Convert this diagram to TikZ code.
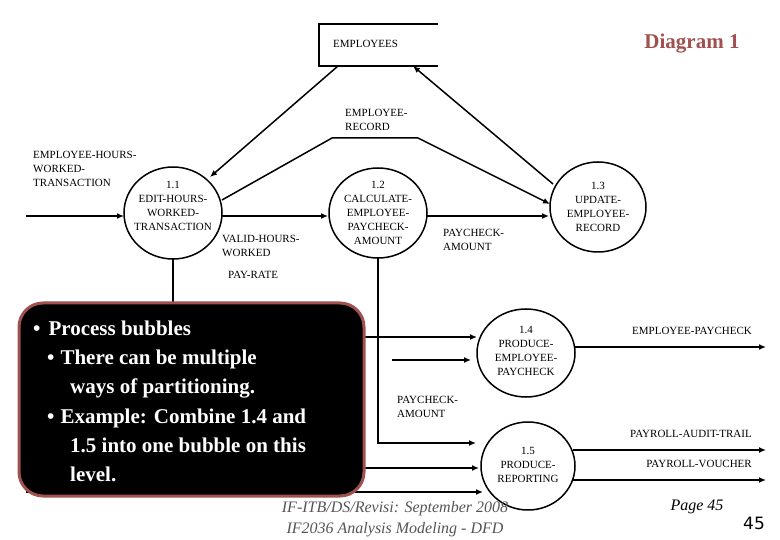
\documentclass[tikz,border=0pt]{standalone}
\usepackage{fontspec}
\setmainfont{Liberation Serif}
\newfontfamily\serifx{Liberation Serif}
\newfontfamily\numfont{DejaVu Sans}
\usetikzlibrary{arrows.meta}
\definecolor{brick}{HTML}{A0504F}
\definecolor{footgray}{HTML}{555555}
\begin{document}
\begin{tikzpicture}[x=1pt,y=-1pt,
  lbl/.style={inner sep=0pt,font=\serifx\fontsize{11}{14}\selectfont,align=left},
  flow/.style={line width=1.5pt,-{Latex[length=7pt,width=6pt]}},
  ln/.style={line width=1.5pt},
  boxtxt/.style={inner sep=0pt,anchor=base west,text=white,font=\serifx\bfseries\fontsize{21}{24}\selectfont},
  foot/.style={inner sep=0pt,text=footgray,font=\serifx\itshape\fontsize{16}{18}\selectfont}]
\useasboundingbox (0,0) rectangle (780,540);
% store
\draw[ln] (438,24) -- (319,24) -- (319,66) -- (438,66);
\node[lbl,anchor=west] (emp) at (333,44) {EMPLOYEES};
\coordinate (stL) at (338,66);
\coordinate (stR) at (413,66);
\node[inner sep=0pt,text=brick,font=\serifx\bfseries\fontsize{21}{24}\selectfont] (dg) at (692,44) {Diagram 1};
% bubbles
\draw[line width=1.5pt] (173,213) ellipse [x radius=49,y radius=46];
\node[lbl,align=center] (b11) at (173,206) {1.1\\EDIT-HOURS-\\WORKED-\\TRANSACTION};
\draw[line width=1.5pt] (378,213) ellipse [x radius=49,y radius=45];
\node[lbl,align=center] (b12) at (378,213) {1.2\\CALCULATE-\\EMPLOYEE-\\PAYCHECK-\\AMOUNT};
\draw[line width=1.5pt] (598,207) ellipse [x radius=48,y radius=45];
\node[lbl,align=center] (b13) at (598,207) {1.3\\UPDATE-\\EMPLOYEE-\\RECORD};
\draw[line width=1.5pt] (526,353) ellipse [x radius=49,y radius=44];
\node[lbl,align=center] (b14) at (526,351) {1.4\\PRODUCE-\\EMPLOYEE-\\PAYCHECK};
\draw[line width=1.5pt] (528,466) ellipse [x radius=47,y radius=44];
\node[lbl,align=center] (b15) at (528,465) {1.5\\PRODUCE-\\REPORTING};
% connectors top
\draw[flow] (stL) -- (210,177);
\draw[flow] (553,184) -- (stR);
\draw[flow] (222,200) -- (332,138) -- (418,138) -- (550,204);
\node[lbl,anchor=west] (er) at (345,120) {EMPLOYEE-\\RECORD};
\coordinate (inL) at (26,216);
\draw[flow] (inL) -- (124,216);
\node[lbl,anchor=west] (eh) at (33,169) {EMPLOYEE-HOURS-\\WORKED-\\TRANSACTION};
\draw[flow] (222,216) -- (328,216);
\node[lbl,anchor=west] (vh) at (222,246) {VALID-HOURS-\\WORKED};
\draw[flow] (427,216) -- (549,216);
\node[lbl,anchor=west] (pa1) at (443,240) {PAYCHECK-\\AMOUNT};
\node[lbl,anchor=west] (pr) at (228,275) {PAY-RATE};
\draw[ln] (173,259) -- (173,305);
\draw[flow] (378,258) -- (378,443) -- (476,443);
\draw[flow] (360,337) -- (477,337);
\draw[flow] (392,360) -- (471,360);
\node[lbl,anchor=west] (pa2) at (397,407) {PAYCHECK-\\AMOUNT};
\draw[flow] (360,468) -- (479,468);
\coordinate (inL2) at (26,492);
\draw[flow] (inL2) -- (483,492);
% outputs
\coordinate (o1) at (766,347);
\coordinate (o2) at (766,450);
\coordinate (o3) at (766,480);
\draw[flow] (575,347) -- (o1);
\draw[flow] (573,450) -- (o2);
\draw[flow] (573,480) -- (o3);
\node[lbl,anchor=east] (ep) at (752,331) {EMPLOYEE-PAYCHECK};
\node[lbl,anchor=east] (pat) at (752,434) {PAYROLL-AUDIT-TRAIL};
\node[lbl,anchor=east] (pv) at (752,464) {PAYROLL-VOUCHER};
% callout box
\draw[fill=black,draw=brick,line width=3pt,rounded corners=24pt] (19,303) rectangle (364,496);
\node[boxtxt] (t1) at (33,336) {•\hspace{8pt}Process bubbles};
\node[boxtxt] (t2) at (47,365) {•\hspace{6pt}There can be multiple};
\node[boxtxt] (t3) at (70,394) {ways of partitioning.};
\node[boxtxt] (t4) at (47,423) {•\hspace{6pt}Example: Combine 1.4 and};
\node[boxtxt] (t5) at (70,452) {1.5 into one bubble on this};
\node[boxtxt] (t6) at (70,481) {level.};
% footer
\node[foot] (f1) at (395,509) {IF-ITB/DS/Revisi: September 2008};
\node[foot] (f2) at (395,530) {IF2036 Analysis Modeling - DFD};
\node[foot,text=black] (pg) at (697,507) {Page 45};
\node[inner sep=0pt,font=\numfont\fontsize{17}{20}\selectfont] (n45) at (754,523) {45};
\end{tikzpicture}
\end{document}
